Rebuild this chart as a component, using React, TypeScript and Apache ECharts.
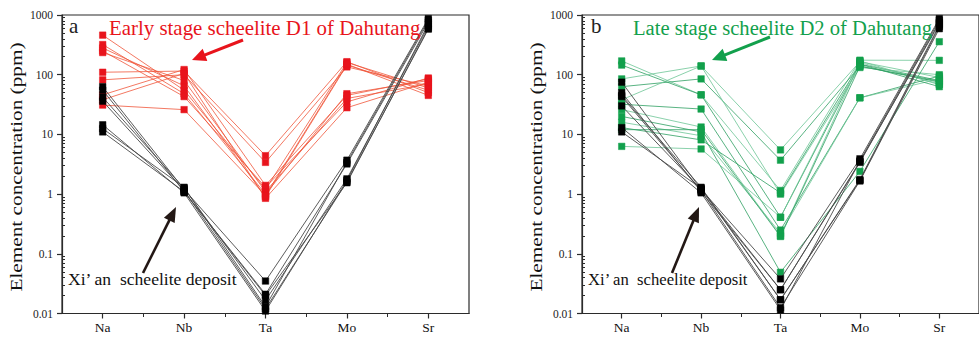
import React, { useEffect, useRef } from "react";
import * as echarts from "echarts";

// ---------- data ----------
const elements = ["Na", "Nb", "Ta", "Mo", "Sr"];
const yTickValues = [0.01, 0.1, 1, 10, 100, 1000];
const yTickLabels = ["0.01", "0.1", "1", "10", "100", "1000"];

// Early stage scheelite D1 of Dahutang (left panel), values for Na, Nb, Ta, Mo, Sr
const d1Early: number[][] = [
  [460, 55, 1.2, 160, 60],
  [320, 48, 1.0, 48, 80],
  [280, 65, 0.9, 145, 55],
  [250, 43, 1.3, 35, 88],
  [235, 80, 1.1, 40, 70],
  [110, 115, 4.4, 165, 50],
  [82, 100, 3.4, 135, 65],
  [46, 122, 1.4, 45, 85],
  [38, 105, 0.85, 28, 75],
  [31, 26, 0.95, 150, 45],
];

// Xi'an scheelite deposit (left panel)
const xianLeft: number[][] = [
  [63, 1.2, 0.035, 3.7, 870],
  [55, 1.1, 0.021, 3.2, 760],
  [42, 1.25, 0.0166, 1.8, 650],
  [36, 1.15, 0.012, 1.6, 580],
  [14.5, 1.05, 0.011, 1.7, 700],
  [12.5, 1.3, 0.013, 3.4, 820],
  [11, 1.1, 0.02, 1.55, 600],
];

// Late stage scheelite D2 of Dahutang (right panel)
const d2Late: number[][] = [
  [170, 46, 1.15, 175, 174],
  [145, 46, 0.41, 150, 80],
  [85, 140, 5.5, 165, 90],
  [63, 85, 3.7, 140, 75],
  [38, 140, 1.0, 132, 100],
  [32, 26.6, 0.25, 41, 95],
  [26, 13.3, 0.2, 160, 70],
  [20, 11, 0.049, 2.4, 357],
  [16, 9.5, 0.22, 41, 85],
  [13, 8.1, 1.05, 150, 63],
  [6.3, 5.7, 0.41, 170, 68],
  [12, 12, 0.195, 138, 78],
];

// Xi'an scheelite deposit (right panel)
const xianRight: number[][] = [
  [75, 1.2, 0.038, 3.9, 870],
  [50, 1.1, 0.025, 3.4, 760],
  [45, 1.3, 0.017, 1.75, 680],
  [43, 1.15, 0.0125, 1.66, 590],
  [13, 1.05, 0.0115, 3.6, 820],
  [11, 1.25, 0.017, 1.7, 640],
  [30, 1.2, 0.025, 3.5, 720],
];

// ---------- styles ----------
const SERIF = "'Liberation Serif', 'DejaVu Serif', serif";
const RED = "#e8141c";
const GREEN = "#12a04c";
const AXIS = "#2b2b2b";

const minorLogTicks: number[] = [];
for (let k = -2; k <= 2; k++) {
  for (let m = 2; m <= 9; m++) minorLogTicks.push(+(m * Math.pow(10, k)).toPrecision(3));
}

function arrow(tail: [number, number], tip: [number, number], color: string, w: number, headLen: number, headHalf: number) {
  const dx = tip[0] - tail[0];
  const dy = tip[1] - tail[1];
  const L = Math.sqrt(dx * dx + dy * dy);
  const ux = dx / L, uy = dy / L;
  const bx = tip[0] - ux * headLen, by = tip[1] - uy * headLen;
  const px = -uy, py = ux;
  return [
    {
      type: "line",
      shape: { x1: tail[0], y1: tail[1], x2: bx + ux * 2, y2: by + uy * 2 },
      style: { stroke: color, lineWidth: w },
      z: 50,
    },
    {
      type: "polygon",
      shape: {
        points: [
          [tip[0], tip[1]],
          [bx + px * headHalf, by + py * headHalf],
          [bx - px * headHalf, by - py * headHalf],
        ],
      },
      style: { fill: color },
      z: 50,
    },
  ];
}

function text(x: number, y: number, t: string, size: number, color: string, extra: any = {}) {
  return {
    type: "text",
    x,
    y,
    z: 60,
    ...extra,
    style: {
      text: t,
      fontSize: size,
      fontFamily: SERIF,
      fill: color,
      align: extra.align || "left",
      verticalAlign: "middle",
    },
  };
}

function makeAxes(g: number) {
  const xMain = {
    type: "value",
    gridIndex: g,
    min: 0.5,
    max: 5.5,
    axisLine: { show: true, onZero: false, lineStyle: { color: AXIS, width: 1.2 } },
    axisTick: { show: true, length: 5, customValues: [1, 2, 3, 4, 5], lineStyle: { color: AXIS, width: 1.2 } },
    axisLabel: {
      show: true,
      customValues: [1, 2, 3, 4, 5],
      formatter: (v: number) => elements[Math.round(v) - 1] || "",
      fontFamily: SERIF,
      fontSize: 13.5,
      color: "#111",
      margin: 7,
    },
    splitLine: { show: false },
  };
  const xMinor = {
    type: "value",
    gridIndex: g,
    min: 0.5,
    max: 5.5,
    position: "bottom",
    axisLine: { show: false, onZero: false },
    axisTick: { show: true, length: 3.5, customValues: [1.5, 2.5, 3.5, 4.5], lineStyle: { color: AXIS, width: 1 } },
    axisLabel: { show: false },
    splitLine: { show: false },
  };
  const yMain = {
    type: "log",
    logBase: 10,
    gridIndex: g,
    min: 0.01,
    max: 1000,
    axisLine: { show: true, onZero: false, lineStyle: { color: AXIS, width: 1.2 } },
    axisTick: { show: true, length: 5, customValues: yTickValues, lineStyle: { color: AXIS, width: 1.2 } },
    axisLabel: {
      show: true,
      customValues: yTickValues,
      formatter: (v: number) => {
        const i = Math.round(Math.log10(v)) + 2;
        return yTickLabels[i] ?? "";
      },
      fontFamily: SERIF,
      fontSize: 11.5,
      color: "#222",
      margin: 9,
    },
    splitLine: { show: false },
    minorTick: { show: false },
  };
  const yMinor = {
    type: "log",
    logBase: 10,
    gridIndex: g,
    min: 0.01,
    max: 1000,
    position: "left",
    axisLine: { show: false, onZero: false },
    axisTick: { show: true, inside: true, length: 3, customValues: minorLogTicks, lineStyle: { color: AXIS, width: 1 } },
    axisLabel: { show: false },
    splitLine: { show: false },
  };
  return { x: [xMain, xMinor], y: [yMain, yMinor] };
}

function sampleSeries(vals: number[], g: number, lineColor: string, markerColor: string, lw: number, z: number) {
  return {
    type: "line",
    xAxisIndex: g * 2,
    yAxisIndex: g * 2,
    data: vals.map((v, i) => [i + 1, v]),
    symbol: "rect",
    symbolSize: 6.5,
    showSymbol: true,
    silent: true,
    lineStyle: { color: lineColor, width: lw },
    itemStyle: { color: markerColor, borderColor: markerColor, borderWidth: 0.5 },
    emphasis: { disabled: true },
    z,
  };
}

export default function App() {
  const ref = useRef<HTMLDivElement>(null);
  useEffect(() => {
    document.body.style.margin = "0";
    if (!ref.current) return;
    const chart = echarts.init(ref.current, undefined, { renderer: "svg" });
    const a0 = makeAxes(0);
    const a1 = makeAxes(1);
    const series: any[] = [];
    d1Early.forEach((s) => series.push(sampleSeries(s, 0, "#f0563a", RED, 0.8, 2)));
    xianLeft.forEach((s) => series.push(sampleSeries(s, 0, "#4a4a4a", "#000", 0.9, 3)));
    d2Late.forEach((s, i) => series.push(sampleSeries(s, 1, i % 2 ? "#2ea062" : "#6cc596", GREEN, 0.8, 2)));
    xianRight.forEach((s) => series.push(sampleSeries(s, 1, "#4a4a4a", "#000", 0.9, 3)));

    const graphics: any[] = [
      text(69, 26, "a", 21, "#222"),
      text(591, 26, "b", 21, "#222"),
      text(109, 28, "Early stage scheelite D1 of Dahutang", 20, RED, { scaleX: 1.045 }),
      text(633, 28, "Late stage scheelite D2 of Dahutang", 20, GREEN, { scaleX: 1.03 }),
      text(68, 280, "Xi\u2019 an  scheelite deposit", 16, "#111", { scaleX: 1.1 }),
      text(588, 280, "Xi\u2019 an  scheelite deposit", 16, "#111", { scaleX: 1.04 }),
      text(16, 167, "Element concentration (ppm)", 16, "#111", { rotation: Math.PI / 2, scaleX: 1.33, align: "center" }),
      text(536, 167, "Element concentration (ppm)", 16, "#111", { rotation: Math.PI / 2, scaleX: 1.33, align: "center" }),
      ...arrow([243, 40], [192, 60], RED, 3, 14, 6.5),
      ...arrow([770, 37], [712, 60], GREEN, 3, 14, 6.5),
      ...arrow([143, 273], [176, 207], "#231815", 2.6, 15, 6),
      ...arrow([672, 273], [699, 207], "#231815", 2.6, 15, 6),
    ];

    chart.setOption({
      animation: false,
      grid: [
        { left: 62, top: 15, width: 407, height: 298.5, show: true, borderColor: AXIS, borderWidth: 1.2, backgroundColor: "transparent" },
        { left: 582, top: 15, width: 407, height: 298.5, show: true, borderColor: AXIS, borderWidth: 1.2, backgroundColor: "transparent" },
      ],
      xAxis: [...a0.x, ...a1.x],
      yAxis: [...a0.y, ...a1.y],
      series,
      graphic: graphics,
    });
    return () => chart.dispose();
  }, []);
  return <div ref={ref} style={{ width: 979, height: 339, background: "#fff" }} />;
}
